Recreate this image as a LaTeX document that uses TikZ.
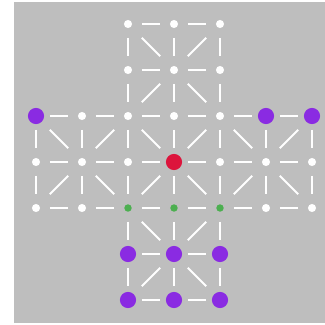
\documentclass[tikz,border=0pt]{standalone}
\usetikzlibrary{calc}

\definecolor{boardgray}{RGB}{190,190,190}
\definecolor{pieceviolet}{RGB}{138,43,226}
\definecolor{piecered}{RGB}{220,20,60}
\definecolor{piecegreen}{RGB}{76,175,80}

\begin{document}
\begin{tikzpicture}[
    spot/.style={circle, fill=white, inner sep=0pt, minimum size=5pt},
    seed/.style={circle, fill=piecegreen, inner sep=0pt, minimum size=4.6pt},
    piece/.style={circle, inner sep=0pt, minimum size=10pt},
    link/.style={draw=white, line width=1.2pt, shorten <=0.3cm, shorten >=0.3cm},
    slant/.style={link, shorten <=0.4243cm, shorten >=0.4243cm}
]

    \useasboundingbox (0,0) rectangle (7.0652,-7.0435);
    \fill[boardgray] (0.3043,-0.0435) rectangle (7.0652,-7.0217);

    \begin{scope}[shift={(0.7826,-0.5217)}, y=-1cm]

    % Board points
    \foreach \c/\r in {2/0,3/0,4/0, 2/1,3/1,4/1, 1/2,2/2,3/2,4/2,
                       0/3,1/3,2/3,4/3,5/3,6/3, 0/4,1/4,5/4,6/4}
        \node[spot] (p\c\r) at (\c,\r) {};
    \foreach \c in {2,3,4}
        \node[seed] (p\c4) at (\c,4) {};

    % Pieces
    \foreach \c/\r in {0/2,5/2,6/2, 2/5,3/5,4/5, 2/6,3/6,4/6}
        \node[piece, fill=pieceviolet] (p\c\r) at (\c,\r) {};
    \node[piece, fill=piecered] (p33) at (3,3) {};

    % Horizontal lines
    \foreach \c/\r in {2/0,3/0, 2/1,3/1, 0/2,1/2,2/2,3/2,4/2,5/2,
                       0/3,1/3,2/3,3/3,4/3,5/3, 0/4,1/4,2/4,3/4,4/4,5/4,
                       2/5,3/5, 2/6,3/6} {
        \pgfmathtruncatemacro\cn{\c+1}
        \draw[link] (p\c\r.center) -- (p\cn\r.center);
    }

    % Vertical lines
    \foreach \c/\r in {2/0,3/0,4/0, 2/1,3/1,4/1, 0/2,1/2,2/2,3/2,4/2,5/2,6/2,
                       0/3,1/3,2/3,3/3,4/3,5/3,6/3, 2/4,3/4,4/4, 2/5,3/5,4/5} {
        \pgfmathtruncatemacro\rn{\r+1}
        \draw[link] (p\c\r.center) -- (p\c\rn.center);
    }

    % Diagonals, alternating per cell
    \foreach \c/\r in {2/0,3/0, 2/1,3/1, 0/2,1/2,2/2,3/2,4/2,5/2,
                       0/3,1/3,2/3,3/3,4/3,5/3, 2/4,3/4, 2/5,3/5} {
        \pgfmathtruncatemacro\cn{\c+1}
        \pgfmathtruncatemacro\rn{\r+1}
        \ifodd\numexpr\c+\r\relax
            \draw[slant] (p\cn\r.center) -- (p\c\rn.center);
        \else
            \draw[slant] (p\c\r.center) -- (p\cn\rn.center);
        \fi
    }

    \end{scope}

\end{tikzpicture}
\end{document}
